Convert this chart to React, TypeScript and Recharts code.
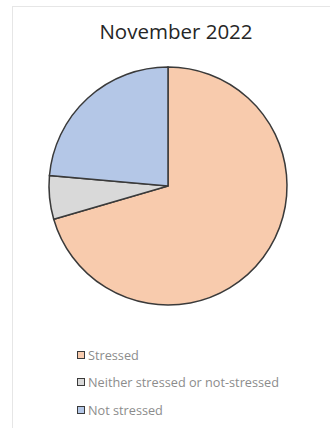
import React from 'react';
import { PieChart, Pie, Cell } from 'recharts';

const categories = ['Stressed', 'Neither stressed or not-stressed', 'Not stressed'];
const shares = [70.5, 5.9, 23.6];
const colors = ['#F8CBAD', '#D9D9D9', '#B4C7E7'];
const title = 'November 2022';

const data = categories.map((name, i) => ({ name, value: shares[i] }));

export default function App() {
  return (
    <div style={{ position: 'absolute', left: 0, top: 0, width: 330, height: 428, background: '#fff', overflow: 'hidden' }}>
      <div style={{ position: 'absolute', left: 12, top: 6, width: 330, height: 430, borderLeft: '1.5px solid #e6e6e6', borderTop: '1.5px solid #e6e6e6' }} />
      <div style={{ position: 'absolute', left: 0, width: 352, top: 17, textAlign: 'center', fontFamily: '"Open Sans", sans-serif', fontSize: 20.5, color: '#262626' }}>{title}</div>
      <div style={{ position: 'absolute', left: 0, top: 0 }}>
        <PieChart width={330} height={428} margin={{ top: 0, right: 0, bottom: 0, left: 0 }}>
          <Pie
            data={data}
            dataKey="value"
            nameKey="name"
            cx={168}
            cy={186}
            outerRadius={119}
            startAngle={90}
            endAngle={-270}
            stroke="#3a3a3a"
            strokeWidth={1.5}
            isAnimationActive={false}
          >
            {data.map((d, i) => (
              <Cell key={d.name} fill={colors[i]} />
            ))}
          </Pie>
        </PieChart>
      </div>
      <div style={{ position: 'absolute', left: 77, top: 341 }}>
        {categories.map((c, i) => (
          <div key={c} style={{ display: 'flex', alignItems: 'center', height: 27.5 }}>
            <div style={{ width: 6, height: 6, border: '1.3px solid #3a3a3a', background: colors[i], marginRight: 3 }} />
            <span style={{ fontFamily: '"Open Sans", sans-serif', fontSize: 12.7, color: '#8c8c8c', whiteSpace: 'nowrap' }}>{c}</span>
          </div>
        ))}
      </div>
    </div>
  );
}
